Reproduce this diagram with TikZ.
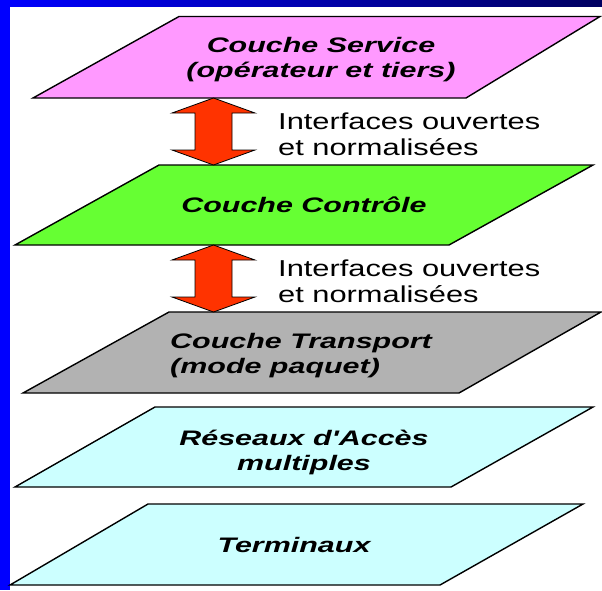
\documentclass[tikz,border=0pt]{standalone}
\usepackage{fontspec}
\usepackage{graphicx}
\setmainfont{Liberation Sans}
\definecolor{servicepink}{RGB}{255,153,255}
\definecolor{controlgreen}{RGB}{102,255,51}
\definecolor{transportgray}{RGB}{178,178,178}
\definecolor{accesscyan}{RGB}{204,255,255}
\definecolor{arrowred}{RGB}{255,51,0}
\definecolor{frameblue}{RGB}{0,0,255}
\definecolor{framenavy}{RGB}{0,0,96}
\newcommand\hsl[1]{\scalebox{1.45}[1]{#1}}
\newcommand\hsr[1]{\scalebox{1.34}[1]{#1}}
\tikzset{
  layer/.style={draw=black, line width=1.4pt, line join=miter},
  layertext/.style={inner sep=0pt, font=\fontsize{21}{25.5}\selectfont\bfseries\itshape},
  iftext/.style={inner sep=0pt, anchor=base west, font=\fontsize{23}{26}\selectfont},
  bigarrow/.style={fill=arrowred, draw=black, line width=0.8pt, line join=miter},
}
\newcommand\dblarrow[3]{%
  \draw[bigarrow] (#1) -- ++(-41.5,15) -- ++(23,0) -- ++(0,#3) -- ++(-23,0)
    -- (#2) -- ++(41.5,-15) -- ++(-23,0) -- ++(0,-#3) -- ++(23,0) -- cycle;}
\begin{document}
\begin{tikzpicture}[x=1pt,y=-1pt]
\useasboundingbox (0,0) rectangle (602,590);
\clip (0,0) rectangle (602,590);
\fill[white] (0,0) rectangle (602,590);
% frame
\shade[left color=frameblue, right color=framenavy] (0,0) rectangle (602,6.5);
\fill[frameblue] (0,0) rectangle (9.5,590);
% layers
\filldraw[layer, fill=servicepink] (179,16.5) -- (600,16.5) -- (466,98) -- (33,98) -- cycle;
\filldraw[layer, fill=controlgreen] (159,165) -- (593,165) -- (449,245) -- (15,245) -- cycle;
\filldraw[layer, fill=transportgray] (169,312) -- (601,312) -- (459,393) -- (23,393) -- cycle;
\filldraw[layer, fill=accesscyan] (155,407) -- (593,407) -- (451,487) -- (15,487) -- cycle;
\filldraw[layer, fill=accesscyan] (148,504) -- (583,504) -- (440,585) -- (10,585) -- cycle;
% layer labels
\node[layertext, anchor=base] (service) at (321,52)
  {\hsl{\begin{tabular}[t]{@{}c@{}}Couche Service\\(opérateur et tiers)\end{tabular}}};
\node[layertext, anchor=base] (controle) at (304,212) {\hsl{Couche Contrôle}};
\node[layertext, anchor=base west] (transport) at (170,348)
  {\hsl{\begin{tabular}[t]{@{}l@{}}Couche Transport\\(mode paquet)\end{tabular}}};
\node[layertext, anchor=base] (reseaux) at (304,445)
  {\hsl{\begin{tabular}[t]{@{}c@{}}Réseaux d\textquotesingle Accès\\multiples\end{tabular}}};
\node[layertext, anchor=base] (terminaux) at (294,552) {\hsl{Terminaux}};
% arrows
\coordinate (a1t) at (213.5,98);
\coordinate (a1b) at (213.5,165);
\coordinate (a2t) at (213.5,245);
\coordinate (a2b) at (213.5,312);
\dblarrow{a1t}{a1b}{37}
\dblarrow{a2t}{a2b}{37}
% interface labels
\node[iftext] (if1) at (278,129)
  {\hsr{\begin{tabular}[t]{@{}l@{}}Interfaces ouvertes\\et normalisées\end{tabular}}};
\node[iftext] (if2) at (278,276)
  {\hsr{\begin{tabular}[t]{@{}l@{}}Interfaces ouvertes\\et normalisées\end{tabular}}};
\end{tikzpicture}
\end{document}
